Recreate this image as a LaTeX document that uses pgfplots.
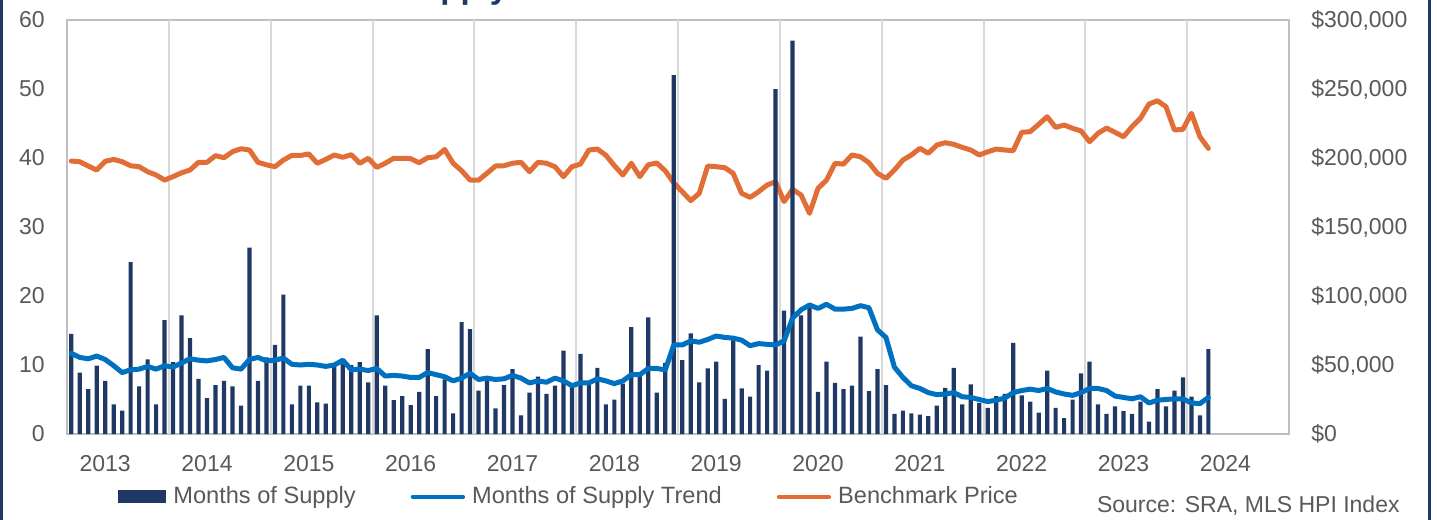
\documentclass[border=0pt]{standalone}
\usepackage{fontspec}
\setmainfont{Liberation Sans}
\usepackage{pgfplots}
\usepackage{pgfplotstable}
\pgfplotsset{compat=1.18}

\definecolor{supplynavy}{RGB}{31,56,100}
\definecolor{trendblue}{RGB}{0,112,192}
\definecolor{benchorange}{RGB}{226,110,55}
\definecolor{textgrey}{RGB}{89,89,89}
\definecolor{gridgrey}{RGB}{217,217,217}
\definecolor{boxgrey}{RGB}{191,191,191}

% monthly, idx 0 = Sep 2012 ... idx 134 = Nov 2023
\pgfplotstableread{
idx mos trend price
0 14.5 11.7 197800
1 8.9 11.1 197300
2 6.5 10.9 194200
3 9.9 11.3 191300
4 7.7 10.8 197600
5 4.3 9.9 199000
6 3.4 8.9 197300
7 24.9 9.3 194400
8 6.9 9.4 193700
9 10.8 9.8 190100
10 4.3 9.4 187700
11 16.5 9.9 184000
12 10.4 9.7 186500
13 17.2 10.3 189300
14 13.9 10.9 191300
15 8.0 10.7 196900
16 5.2 10.6 196900
17 7.1 10.8 201700
18 7.7 11.1 200200
19 6.9 9.6 204600
20 4.1 9.4 206700
21 27.0 10.8 205800
22 7.7 11.1 196900
23 11.1 10.6 195100
24 12.9 10.7 193700
25 20.2 11.0 198500
26 4.3 10.1 201900
27 7.0 10.0 201900
28 7.0 10.1 202900
29 4.6 10.0 196200
30 4.4 9.8 199000
31 9.8 10.0 202200
32 10.2 10.7 200500
33 10.0 9.3 202400
34 10.4 9.4 196200
35 7.5 9.2 199800
36 17.2 9.5 193200
37 7.0 8.4 196200
38 4.9 8.5 199800
39 5.5 8.4 199800
40 4.2 8.2 199500
41 6.1 8.2 196600
42 12.3 8.9 200200
43 5.5 8.6 200900
44 7.9 8.3 206200
45 3.0 7.7 196200
46 16.2 8.1 190800
47 15.2 8.8 184000
48 6.3 7.9 184000
49 7.8 8.1 189000
50 3.7 7.9 194200
51 7.1 8.0 194400
52 9.4 8.5 196200
53 2.7 8.1 196900
54 6.0 7.4 190100
55 8.3 7.7 196900
56 5.8 7.5 196200
57 7.0 8.1 193700
58 12.1 7.7 186500
59 6.9 7.0 193700
60 11.6 7.4 195600
61 7.1 7.4 205800
62 9.6 8.0 206500
63 4.3 7.7 202000
64 5.0 7.3 194500
65 7.3 7.7 187700
66 15.5 8.6 196200
67 8.5 8.6 186500
68 16.9 9.5 195100
69 6.0 9.5 196400
70 10.3 9.3 190700
71 52.0 12.9 182000
72 10.7 12.9 175600
73 14.6 13.5 169100
74 7.5 13.3 174400
75 9.5 13.7 194200
76 10.5 14.2 193700
77 5.1 14.0 193000
78 13.6 13.9 188900
79 6.6 13.6 174400
80 5.4 12.8 171500
81 10.0 13.1 175600
82 9.2 13.0 180400
83 50.0 12.9 182800
84 17.9 13.5 168400
85 57.0 16.8 177300
86 17.2 18.0 173200
87 18.5 18.7 159900
88 6.1 18.2 178000
89 10.5 18.8 184000
90 7.4 18.1 196100
91 6.5 18.1 195600
92 7.0 18.2 202200
93 14.1 18.6 200900
94 6.2 18.3 196600
95 9.4 15.1 188900
96 7.1 14.0 185300
97 2.9 9.7 191300
98 3.4 8.2 198500
99 3.0 7.0 202200
100 2.8 6.6 207000
101 2.6 6.0 203400
102 4.1 5.7 209400
103 6.7 5.8 211100
104 9.6 6.0 209900
105 4.3 5.4 207700
106 7.2 5.3 205800
107 4.5 5.0 202200
108 3.8 4.7 204500
109 5.5 4.9 206500
110 5.8 5.2 205800
111 13.2 6.0 205300
112 5.6 6.3 218600
113 4.7 6.5 219100
114 3.1 6.3 224400
115 9.2 6.6 229900
116 3.8 6.1 222200
117 2.3 5.8 223900
118 5.0 5.6 221500
119 8.8 6.0 219600
120 10.5 6.6 211800
121 4.3 6.6 217900
122 2.9 6.3 221700
123 4.0 5.5 218600
124 3.3 5.3 215400
125 2.9 5.1 222700
126 4.7 5.4 228800
127 1.8 4.5 239100
128 6.5 4.9 241500
129 4.0 5.0 237200
130 6.3 5.1 220300
131 8.2 5.1 220800
132 5.4 4.5 232400
133 2.7 4.4 215400
134 12.3 5.3 207000
}\supplydata

\begin{document}
\begin{tikzpicture}[font=\fontsize{11.5}{13.8}\selectfont]
\useasboundingbox (0,0) rectangle (718.5pt,-260pt);

% title sits mostly above the crop, only descenders show
\node[anchor=base west, inner sep=0pt, text=supplynavy,
  font=\fontsize{16.5}{19}\selectfont\bfseries] at (115.5pt,1pt) {Months of Supply};

% frame edges of the slide box
\draw[supplynavy, line width=1.4pt] (0.7pt,0pt) -- (0.7pt,-260pt);
\draw[supplynavy, line width=1.4pt] (714.9pt,0pt) -- (714.9pt,-260pt);

% right axis: benchmark price (drawn first so bars sit on top)
\begin{axis}[
  at={(33.5pt,-217pt)}, anchor=south west,
  scale only axis, width=611pt, height=207pt,
  xmin=-0.5, xmax=143.5, ymin=0, ymax=300000,
  xtick={4,16,...,136},
  xticklabels={2013,2014,2015,2016,2017,2018,2019,2020,2021,2022,2023,2024},
  xticklabel style={inner sep=0pt, yshift=-10.3pt, text=textgrey},
  extra x ticks={11.5,23.5,...,131.5},
  extra x tick labels={},
  extra x tick style={grid=major, major grid style={gridgrey, line width=1pt}},
  major tick length=0pt,
  ytick={0,50000,100000,150000,200000,250000,300000},
  yticklabels={{\$0},{\$50,000},{\$100,000},{\$150,000},{\$200,000},{\$250,000},{\$300,000}},
  scaled y ticks=false,
  ytick pos=right, yticklabel pos=right,
  yticklabel style={inner sep=0pt, xshift=11pt, text=textgrey},
  axis line style={boxgrey, line width=1pt},
]
\addplot[benchorange, line width=2.5pt, line join=round, line cap=round]
  table[x=idx, y=price]{\supplydata};
\end{axis}

% left axis: months of supply bars and trend
\begin{axis}[
  at={(33.5pt,-217pt)}, anchor=south west,
  scale only axis, width=611pt, height=207pt,
  xmin=-0.5, xmax=143.5, ymin=0, ymax=60,
  xtick=\empty,
  ytick={0,10,...,60}, ytick pos=left,
  major tick length=0pt,
  axis line style={draw=none},
  yticklabel style={inner sep=0pt, xshift=-11pt, text=textgrey},
  /pgf/number format/assume math mode=true,
  legend columns=3,
  legend cell align=left,
  legend style={draw=none, fill=none, at={(0.0417,-0.152)}, anchor=west,
    inner sep=0pt, text=textgrey, font=\fontsize{11.8}{14}\selectfont,
    nodes={inner sep=0pt},
    /tikz/every odd column/.append style={column sep=3.5pt},
    /tikz/every even column/.append style={column sep=27.5pt}},
]
\addplot[ybar, bar width=2.1pt, fill=supplynavy, draw=none,
  legend image code/.code={\fill[supplynavy] (0pt,-3.25pt) rectangle (24pt,3.25pt);}]
  table[x=idx, y=mos]{\supplydata};
\addlegendentry{Months of Supply}
\addplot[trendblue, line width=2.5pt, line join=round, line cap=round,
  legend image code/.code={\draw[line width=2.2pt, line cap=round] (0pt,0pt) -- (25pt,0pt);}]
  table[x=idx, y=trend]{\supplydata};
\addlegendentry{Months of Supply Trend}
\addlegendimage{benchorange, line width=2.2pt, line cap=round,
  legend image code/.code={\draw[line width=2.2pt, line cap=round] (0pt,0pt) -- (25pt,0pt);}}
\addlegendentry{Benchmark Price}
\end{axis}

\node[anchor=base east, inner sep=0pt, text=textgrey] at (700pt,-256pt)
  {Source: SRA, MLS HPI Index};
\end{tikzpicture}
\end{document}
